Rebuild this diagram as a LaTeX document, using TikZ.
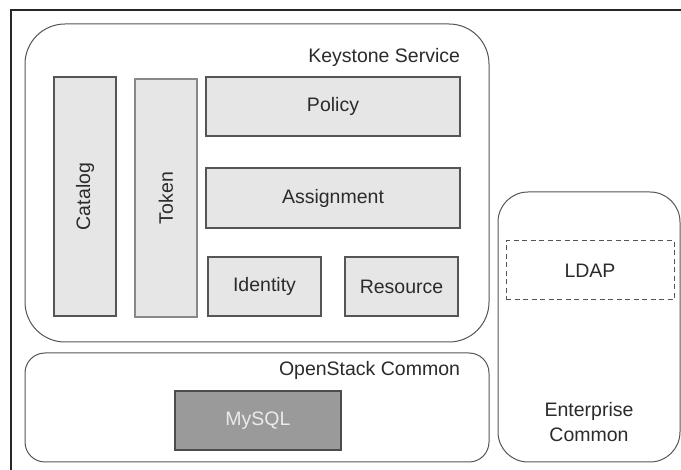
\documentclass[tikz,border=0pt]{standalone}
\usepackage{fontspec}
\setmainfont{Liberation Sans}
\usetikzlibrary{positioning}
\definecolor{boxfill}{HTML}{E6E6E6}
\definecolor{dbfill}{HTML}{9A9A9A}
\definecolor{edge}{HTML}{555555}
\definecolor{txt}{HTML}{2B2B2B}

\begin{document}
\begin{tikzpicture}[x=1pt, y=-1pt, semithick,
                    every node/.style={inner sep=0pt, outer sep=0pt, text=txt, font=\fontsize{19.5}{25}\selectfont},
                    frame/.style={draw=black!85, line width=2pt},
                    layer/.style={draw=edge, line width=1pt, fill=white},
                    block/.style={rectangle, draw=edge, fill=boxfill, line width=1.1pt, text centered},
                    dbblock/.style={rectangle, draw=black!70, fill=dbfill, line width=1.1pt, text=white!92!black},
                    dashbox/.style={rectangle, draw=edge, dash pattern=on 5pt off 3.5pt, line width=1pt}]

  \useasboundingbox (0,0) rectangle (681,470);
  \clip (0,0) rectangle (681,470);
  \fill[white] (0,0) rectangle (681,470);
  \draw[frame] (11,10) rectangle (720,500);

  % keystone service
  \node[layer, rounded corners=40pt, minimum width=464pt, minimum height=318pt] (keystone) at (257,183) {};
  \node[anchor=east] (keystone-txt) at (460,57) {Keystone Service};

  \node[block, minimum width=62pt, minimum height=239pt] (catalog) at (85,196.5) {};
  \node[rotate=90] (catalog-txt) at (catalog.center) {Catalog};
  \node[block, draw=edge!70, minimum width=62pt, minimum height=238pt] (token) at (166,198) {};
  \node[rotate=90] (token-txt) at (token.center) {Token};

  \node[block, minimum width=254pt, minimum height=59pt] (policy) at (333,106.5) {Policy};
  \node[block, minimum width=254pt, minimum height=60pt] (assignment) at (333,198) {Assignment};
  \node[block, minimum width=113pt, minimum height=59pt] (identity) at (264.5,286.5) {Identity};
  \node[block, minimum width=113pt, minimum height=59pt] (resource) at (401.5,286.5) {Resource};

  % openstack common
  \node[layer, rounded corners=20pt, minimum width=464pt, minimum height=109pt] (osc) at (257,407.5) {};
  \node[anchor=east] (osc-txt) at (460,370) {OpenStack Common};
  \node[dbblock, minimum width=166pt, minimum height=59pt] (mysql) at (258,420.5) {MySQL};

  % enterprise common
  \node[layer, rounded corners=30pt, minimum width=182pt, minimum height=270pt] (ec) at (589,327) {};
  \node[dashbox, minimum width=168pt, minimum height=59pt] (ldap) at (590,270.5) {LDAP};
  \node[align=center] (ec-txt) at (589,422) {Enterprise\\Common};

\end{tikzpicture}
\end{document}
